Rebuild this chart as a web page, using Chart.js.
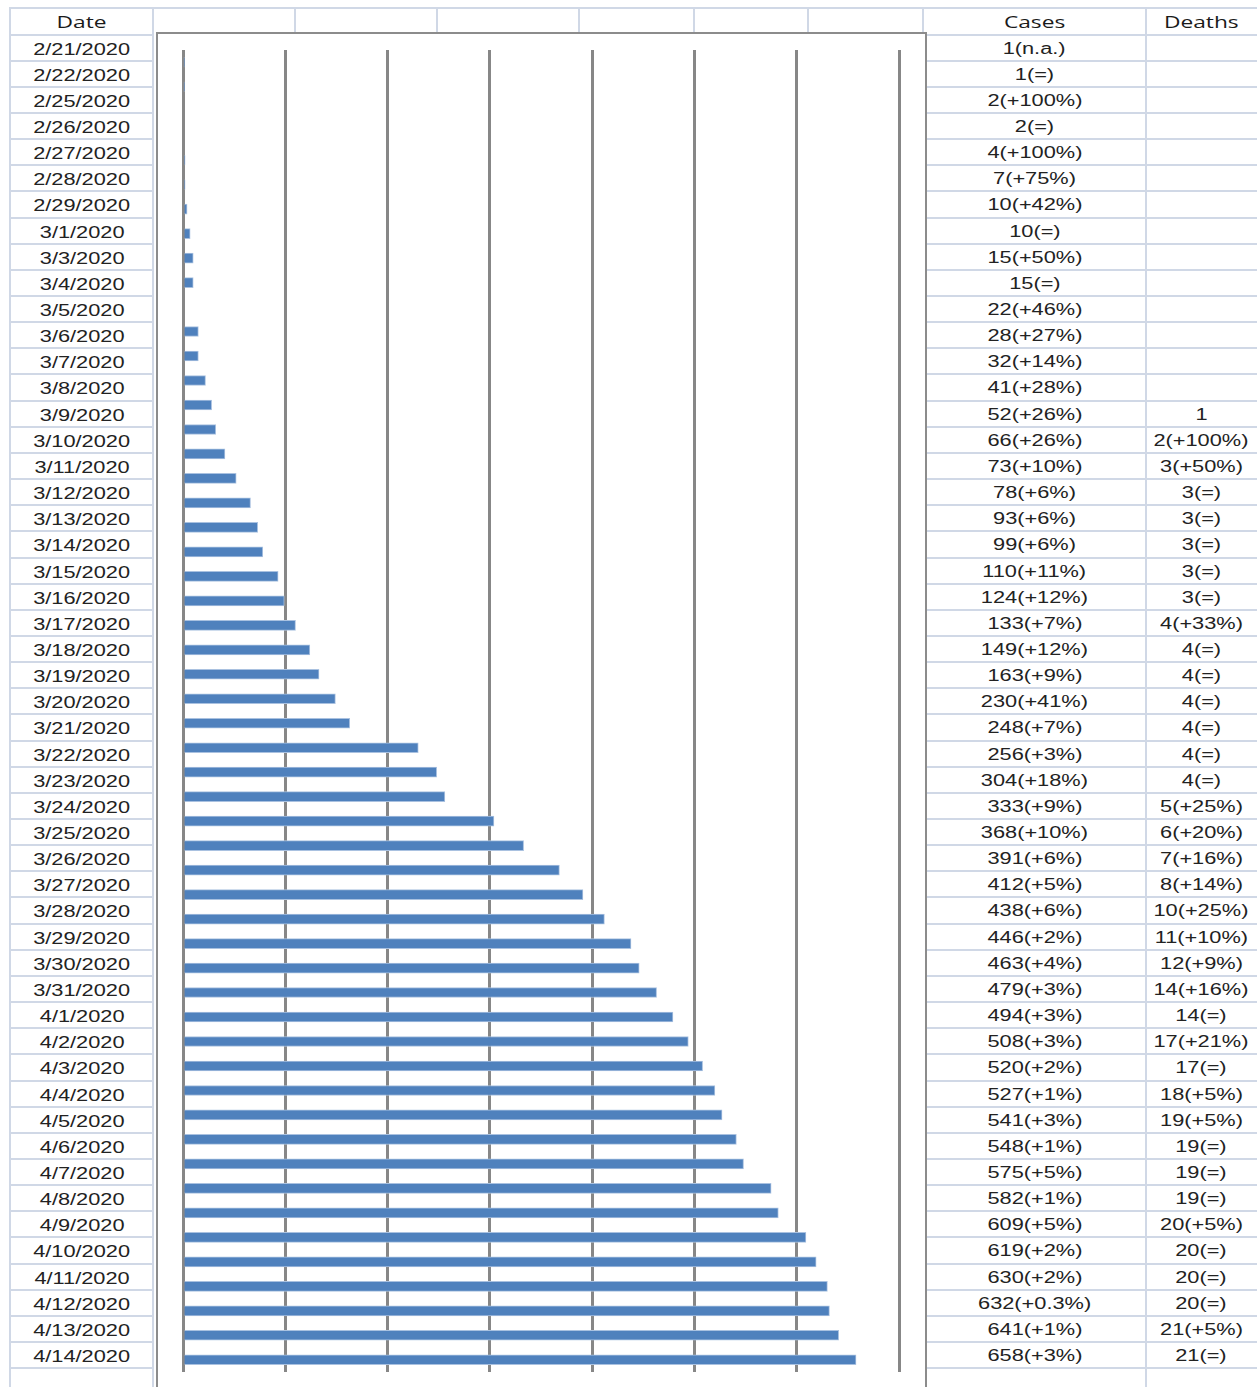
<!DOCTYPE html>
<html>
<head>
<meta charset="utf-8">
<script src="https://cdn.jsdelivr.net/npm/chart.js@4/dist/chart.umd.min.js"></script>
<style>
  html, body { margin: 0; padding: 0; background: #fff; }
  body { width: 1257px; height: 1387px; position: relative; overflow: hidden; }
  .hl, .vl { position: absolute; background: #d0d8e6; }
  .hl { height: 2px; }
  .vl { width: 2px; }
  .cell {
    position: absolute; height: 26px; display: flex; align-items: center; justify-content: center;
    font-family: "Liberation Sans", Arial, sans-serif; font-size: 16px; color: #222; white-space: nowrap;
  }
  .cell span { display: inline-block; transform: scaleX(1.36); }
  .cell.head { font-family: "Open Sans", sans-serif; font-size: 16px; color: #1a1a1a; }
  .cell.head span { transform: scaleX(1.42); }
  #box {
    position: absolute; left: 156px; top: 32px; width: 767px; height: 1380px;
    border: 2px solid #8c8c8c; background: #fff;
  }
  #chart { position: absolute; left: 0; top: 0; }
</style>
</head>
<body>
<div id="grid"></div>
<div id="box"><canvas id="chart" width="767" height="1353" style="width:767px;height:1353px"></canvas></div>
<script>
// Daily figures, one entry per table row
const dates = [
  "2/21/2020","2/22/2020","2/25/2020","2/26/2020","2/27/2020","2/28/2020","2/29/2020",
  "3/1/2020","3/3/2020","3/4/2020","3/5/2020","3/6/2020","3/7/2020","3/8/2020","3/9/2020",
  "3/10/2020","3/11/2020","3/12/2020","3/13/2020","3/14/2020","3/15/2020","3/16/2020",
  "3/17/2020","3/18/2020","3/19/2020","3/20/2020","3/21/2020","3/22/2020","3/23/2020",
  "3/24/2020","3/25/2020","3/26/2020","3/27/2020","3/28/2020","3/29/2020","3/30/2020",
  "3/31/2020","4/1/2020","4/2/2020","4/3/2020","4/4/2020","4/5/2020","4/6/2020","4/7/2020",
  "4/8/2020","4/9/2020","4/10/2020","4/11/2020","4/12/2020","4/13/2020","4/14/2020"
];
const cases = [
  1,1,2,2,4,7,10,
  10,15,15,22,28,32,41,52,
  66,73,78,93,99,110,124,
  133,149,163,230,248,256,304,
  333,368,391,412,438,446,463,
  479,494,508,520,527,541,548,575,
  582,609,619,630,632,641,658
];
const casesChange = [
  "n.a.","=","+100%","=","+100%","+75%","+42%",
  "=","+50%","=","+46%","+27%","+14%","+28%","+26%",
  "+26%","+10%","+6%","+6%","+6%","+11%","+12%",
  "+7%","+12%","+9%","+41%","+7%","+3%","+18%",
  "+9%","+10%","+6%","+5%","+6%","+2%","+4%",
  "+3%","+3%","+3%","+2%","+1%","+3%","+1%","+5%",
  "+1%","+5%","+2%","+2%","+0.3%","+1%","+3%"
];
const deaths = [
  "","","","","","","",
  "","","","","","","","1",
  "2(+100%)","3(+50%)","3(=)","3(=)","3(=)","3(=)","3(=)",
  "4(+33%)","4(=)","4(=)","4(=)","4(=)","4(=)","4(=)",
  "5(+25%)","6(+20%)","7(+16%)","8(+14%)","10(+25%)","11(+10%)","12(+9%)",
  "14(+16%)","14(=)","17(+21%)","17(=)","18(+5%)","19(+5%)","19(=)","19(=)",
  "19(=)","20(+5%)","20(=)","20(=)","20(=)","21(+5%)","21(=)"
];
// Bar chart category axis: every calendar day, including days without a report
const chartDays = [
  "2/21/2020","2/22/2020","2/23/2020","2/24/2020","2/25/2020","2/26/2020","2/27/2020",
  "2/28/2020","2/29/2020","3/1/2020","3/2/2020","3/3/2020","3/4/2020","3/5/2020",
  "3/6/2020","3/7/2020","3/8/2020","3/9/2020","3/10/2020","3/11/2020","3/12/2020",
  "3/13/2020","3/14/2020","3/15/2020","3/16/2020","3/17/2020","3/18/2020","3/19/2020",
  "3/20/2020","3/21/2020","3/22/2020","3/23/2020","3/24/2020","3/25/2020","3/26/2020",
  "3/27/2020","3/28/2020","3/29/2020","3/30/2020","3/31/2020","4/1/2020","4/2/2020",
  "4/3/2020","4/4/2020","4/5/2020","4/6/2020","4/7/2020","4/8/2020","4/9/2020",
  "4/10/2020","4/11/2020","4/12/2020","4/13/2020","4/14/2020"
];
const xTicks = [0, 100, 200, 300, 400, 500, 600, 700];

// ---- table grid and text ----
const grid = document.getElementById('grid');
function el(cls, css, html) {
  const d = document.createElement('div');
  d.className = cls;
  Object.assign(d.style, css);
  if (html !== undefined) d.innerHTML = '<span>' + html + '</span>';
  grid.appendChild(d);
  return d;
}
const ROW0 = 34.5, ROWH = 26.15;
const nLines = dates.length + 2;
// header top line and header separators
el('hl', { left: '10px', top: '7px', width: '1250px' });
[10, 153, 295, 437, 579, 694, 808, 923, 1146].forEach(x =>
  el('vl', { left: (x - 1) + 'px', top: '7px', height: '28px' }));
// row lines
for (let k = 0; k < nLines; k++) {
  const y = Math.round(ROW0 + ROWH * k - 1);
  el('hl', { left: '10px', top: y + 'px', width: '144px' });
  el('hl', { left: '923px', top: y + 'px', width: '337px' });
}
// column lines below the header
[10, 153, 1146].forEach(x =>
  el('vl', { left: (x - 1) + 'px', top: '33px', height: '1400px' }));
// header text
el('cell head', { left: '10px', top: '9px', width: '144px' }, 'Date');
el('cell head', { left: '923px', top: '9px', width: '223px' }, 'Cases');
el('cell head', { left: '1146px', top: '9px', width: '110px' }, 'Deaths');
// body text
dates.forEach((d, i) => {
  const top = Math.round(ROW0 + ROWH * i) + 1;
  el('cell', { left: '10px', top: (top + 1) + 'px', width: '144px' }, d);
  el('cell', { left: '923px', top: top + 'px', width: '223px' }, cases[i] + '(' + casesChange[i] + ')');
  el('cell', { left: '1146px', top: top + 'px', width: '110px' }, deaths[i]);
});

// ---- bar chart ----
const barValues = chartDays.map(day => {
  const i = dates.indexOf(day);
  return i === -1 ? null : cases[i];
});

new Chart(document.getElementById('chart'), {
  type: 'bar',
  data: {
    labels: chartDays,
    datasets: [{
      data: barValues,
      backgroundColor: '#4f81bd',
      borderColor: '#a9c1e0',
      borderWidth: 1,
      borderSkipped: 'start',
      barThickness: 10
    }]
  },
  options: {
    indexAxis: 'y',
    responsive: false,
    animation: false,
    layout: { padding: { left: 25, right: 26, top: 16, bottom: 15 } },
    plugins: { legend: { display: false }, tooltip: { enabled: false } },
    scales: {
      x: {
        min: xTicks[0],
        max: xTicks[xTicks.length - 1],
        afterBuildTicks: s => { s.ticks = xTicks.map(v => ({ value: v })); },
        ticks: { display: false },
        grid: { color: '#878787', lineWidth: 3, drawTicks: false },
        border: { display: false }
      },
      y: { display: false }
    }
  }
});
</script>
</body>
</html>
